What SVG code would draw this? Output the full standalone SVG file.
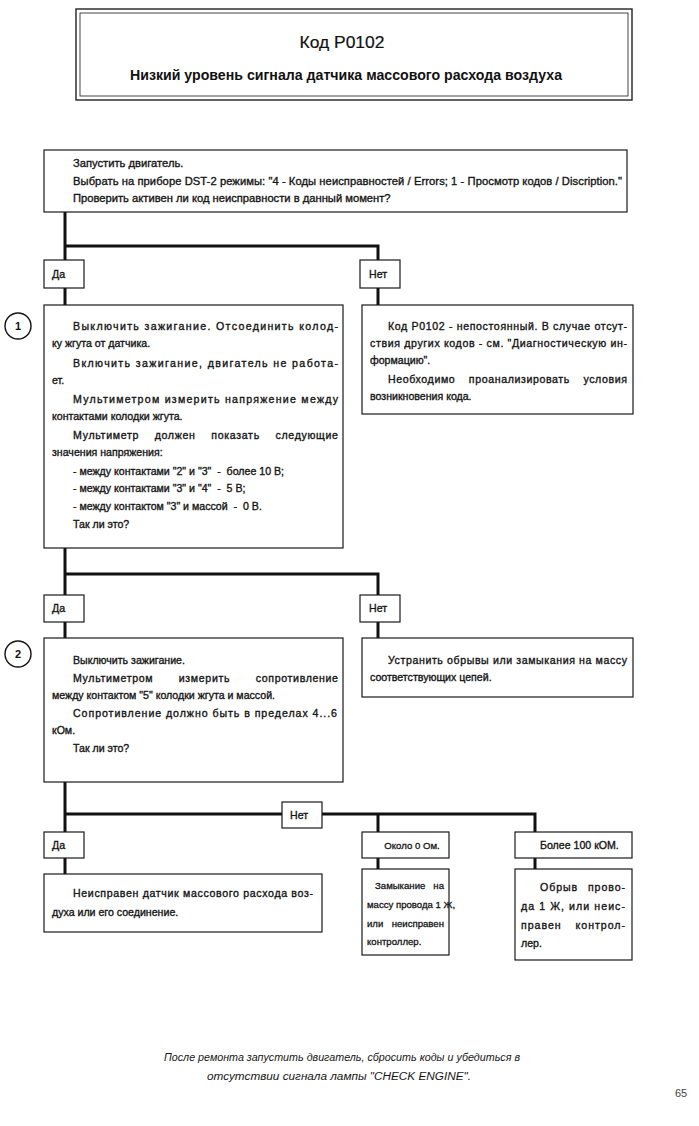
<svg xmlns="http://www.w3.org/2000/svg" width="699" height="1126" viewBox="0 0 699 1126">
<style>
.box{fill:#fff;stroke:#1a1a1a;stroke-width:1.2}
.conn{fill:none;stroke:#111;stroke-width:3}
.t{font-family:"Liberation Sans",Arial,sans-serif;font-size:10.6px;fill:#151515;stroke:#151515;stroke-width:0.35}
.t2{font-family:"Liberation Sans",Arial,sans-serif;font-size:11.2px;fill:#151515;stroke:#151515;stroke-width:0.35}
.ts{font-family:"Liberation Sans",Arial,sans-serif;font-size:9.6px;fill:#151515;stroke:#151515;stroke-width:0.3}
.num{font-family:"Liberation Sans",Arial,sans-serif;font-size:11px;font-weight:bold;fill:#111;text-anchor:middle}
.circ{fill:#fff;stroke:#111;stroke-width:1.4}
.foot{font-family:"Liberation Sans",Arial,sans-serif;font-size:10px;font-style:italic;fill:#151515;text-anchor:middle}
</style>
<rect width="699" height="1126" fill="#fff"/>

<g id="title">
<rect x="76" y="9" width="556" height="91" fill="#fff" stroke="#222" stroke-width="1.4"/>
<rect x="80" y="13" width="548" height="83" fill="none" stroke="#333" stroke-width="0.9"/>
<text x="342" y="48" font-family="Liberation Sans,Arial,sans-serif" font-size="17" fill="#111" stroke="#111" stroke-width="0.2" text-anchor="middle" textLength="85" lengthAdjust="spacingAndGlyphs">Код P0102</text>
<text x="346" y="80" font-family="Liberation Sans,Arial,sans-serif" font-size="14" font-weight="bold" fill="#111" text-anchor="middle" textLength="432" lengthAdjust="spacingAndGlyphs">Низкий уровень сигнала датчика массового расхода воздуха</text>
</g>

<g id="connectors">
<path class="conn" d="M65,212 V260 M65,246 H378 V260"/>
<path class="conn" d="M65,288 V305 M378,288 V305"/>
<path class="conn" d="M65,548 V595 M65,574 H378 V595"/>
<path class="conn" d="M65,622 V638 M378,622 V638"/>
<path class="conn" d="M65,782 V832 M65,814 H282 M322,814 H535 V832 M378,814 V832"/>
<path class="conn" d="M65,858 V874 M378,858 V869 M535,858 V869"/>
</g>

<g id="start">
<rect class="box" x="44" y="150" width="583" height="62"/>
<text class="t2" x="73" y="167">Запустить двигатель.</text>
<text class="t2" x="73" y="185" textLength="549" lengthAdjust="spacing">Выбрать на приборе DST-2 режимы: "4 - Коды неисправностей / Errors; 1 - Просмотр кодов / Discription."</text>
<text class="t2" x="73" y="202">Проверить активен ли код неисправности в данный момент?</text>
</g>

<g id="yes1">
<rect class="box" x="44" y="260" width="40" height="28"/>
<text class="t" x="52" y="278">Да</text>
</g>
<g id="no1">
<rect class="box" x="360" y="260" width="40" height="28"/>
<text class="t" x="369" y="278">Нет</text>
</g>

<g id="step1">
<circle class="circ" cx="18" cy="326" r="13"/>
<text class="num" x="18" y="330">1</text>
<rect class="box" x="44" y="305" width="299" height="243"/>
<text class="t" x="73" y="330" textLength="265" lengthAdjust="spacing">Выключить зажигание. Отсоединить колод-</text>
<text class="t" x="52" y="347">ку жгута от датчика.</text>
<text class="t" x="73" y="367" textLength="265" lengthAdjust="spacing">Включить зажигание, двигатель не работа-</text>
<text class="t" x="52" y="384">ет.</text>
<text class="t" x="73" y="403" textLength="265" lengthAdjust="spacing">Мультиметром измерить напряжение между</text>
<text class="t" x="52" y="420">контактами колодки жгута.</text>
<text class="t" x="73" y="439" textLength="265" lengthAdjust="spacing" word-spacing="12">Мультиметр должен показать следующие</text>
<text class="t" x="52" y="456">значения напряжения:</text>
<text class="t" x="73" y="475">- между контактами "2" и "3"&#160; -&#160; более 10 В;</text>
<text class="t" x="73" y="492">- между контактами "3" и "4"&#160; -&#160; 5 В;</text>
<text class="t" x="73" y="510">- между контактом "3" и массой&#160; -&#160; 0 В.</text>
<text class="t" x="73" y="528">Так ли это?</text>
</g>

<g id="result1">
<rect class="box" x="362" y="305" width="271" height="109"/>
<text class="t" x="388" y="330" textLength="239" lengthAdjust="spacing">Код P0102 - непостоянный. В случае отсут-</text>
<text class="t" x="370" y="347" textLength="257" lengthAdjust="spacing">ствия других кодов - см. "Диагностическую ин-</text>
<text class="t" x="370" y="364">формацию".</text>
<text class="t" x="388" y="383" textLength="239" lengthAdjust="spacing" word-spacing="10">Необходимо проанализировать условия</text>
<text class="t" x="370" y="400">возникновения кода.</text>
</g>

<g id="yes2">
<rect class="box" x="44" y="595" width="40" height="27"/>
<text class="t" x="52" y="612">Да</text>
</g>
<g id="no2">
<rect class="box" x="360" y="595" width="40" height="27"/>
<text class="t" x="369" y="612">Нет</text>
</g>

<g id="step2">
<circle class="circ" cx="18" cy="654" r="13"/>
<text class="num" x="18" y="658">2</text>
<rect class="box" x="44" y="638" width="299" height="144"/>
<text class="t" x="73" y="664">Выключить зажигание.</text>
<text class="t" x="73" y="682" textLength="265" lengthAdjust="spacing" word-spacing="22">Мультиметром измерить сопротивление</text>
<text class="t" x="52" y="699">между контактом "5" колодки жгута и массой.</text>
<text class="t" x="73" y="717" textLength="264" lengthAdjust="spacing">Сопротивление должно быть в пределах 4...6</text>
<text class="t" x="52" y="734">кОм.</text>
<text class="t" x="73" y="752">Так ли это?</text>
</g>

<g id="result2">
<rect class="box" x="362" y="638" width="271" height="59"/>
<text class="t" x="388" y="664" textLength="239" lengthAdjust="spacing">Устранить обрывы или замыкания на массу</text>
<text class="t" x="370" y="681">соответствующих цепей.</text>
</g>

<g id="no3">
<rect class="box" x="282" y="802" width="40" height="26"/>
<text class="t" x="290" y="819">Нет</text>
</g>
<g id="yes3">
<rect class="box" x="44" y="832" width="40" height="26"/>
<text class="t" x="52" y="849">Да</text>
</g>
<g id="near0">
<rect class="box" x="362" y="832" width="87" height="26"/>
<text class="ts" x="412" y="849" text-anchor="middle">Около 0 Ом.</text>
</g>
<g id="over100">
<rect class="box" x="515" y="832" width="117" height="26"/>
<text class="t" x="540" y="849">Более 100 кОМ.</text>
</g>

<g id="result3">
<rect class="box" x="44" y="874" width="278" height="58"/>
<text class="t" x="73" y="897" textLength="240" lengthAdjust="spacing">Неисправен датчик массового расхода воз-</text>
<text class="t" x="52" y="916">духа или его соединение.</text>
</g>

<g id="result4">
<rect class="box" x="362" y="869" width="87" height="86"/>
<text class="ts" x="375" y="889">Замыкание</text>
<text class="ts" x="444" y="889" text-anchor="end">на</text>
<text class="ts" x="367" y="908">массу провода 1 Ж,</text>
<text class="ts" x="367" y="927">или</text>
<text class="ts" x="444" y="927" text-anchor="end">неисправен</text>
<text class="ts" x="367" y="945">контроллер.</text>
</g>

<g id="result5">
<rect class="box" x="515" y="869" width="117" height="91"/>
<text class="t" x="540" y="891" textLength="85" lengthAdjust="spacing" word-spacing="6">Обрыв прово-</text>
<text class="t" x="521" y="910" textLength="104" lengthAdjust="spacing">да 1 Ж, или неис-</text>
<text class="t" x="521" y="929" textLength="104" lengthAdjust="spacing" word-spacing="10">правен контрол-</text>
<text class="t" x="521" y="947">лер.</text>
</g>

<g id="footer">
<text class="foot" x="342" y="1061" textLength="356" lengthAdjust="spacingAndGlyphs">После ремонта запустить двигатель, сбросить коды и убедиться в</text>
<text class="foot" x="339" y="1080" textLength="264" lengthAdjust="spacingAndGlyphs">отсутствии сигнала лампы "CHECK ENGINE".</text>
<text x="681" y="1097" font-family="Liberation Sans,Arial,sans-serif" font-size="11" fill="#444" text-anchor="middle">65</text>
</g>
</svg>
